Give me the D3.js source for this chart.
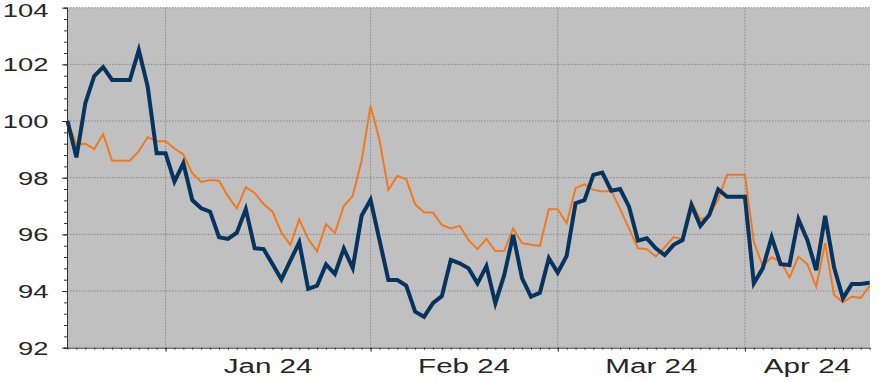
<html>
<head>
<meta charset="utf-8">
<script src="https://d3js.org/d3.v7.min.js"></script>
<style>
  body { margin: 0; background: #fff; }
  text { font-family: "Liberation Sans", Arial, sans-serif; fill: #262626; }
</style>
</head>
<body>
<svg class="chart" width="887" height="382"></svg>
<script>

// business days, 15 Dec 2023 .. 19 Apr 2024
const dates = d3.utcDay.range(new Date(Date.UTC(2023, 11, 15)), new Date(Date.UTC(2024, 3, 20)))
    .filter(d => d.getUTCDay() % 6 !== 0);

const navy = [
  100.0, 98.72, 100.63, 101.59, 101.90, 101.45, 101.45, 101.45, 102.51, 101.21,
  98.86, 98.86, 97.86, 98.51, 97.21, 96.92, 96.80, 95.90, 95.84, 96.06,
  96.89, 95.51, 95.48, 94.95, 94.41, 95.07, 95.72, 94.08, 94.19, 94.94,
  94.60, 95.50, 94.81, 96.66, 97.22, 95.80, 94.39, 94.39, 94.19, 93.27,
  93.09, 93.57, 93.82, 95.10, 94.98, 94.80, 94.27, 94.88, 93.57, 94.57,
  95.98, 94.45, 93.80, 93.94, 95.16, 94.65, 95.24, 97.10, 97.21, 98.10,
  98.18, 97.54, 97.60, 96.98, 95.78, 95.86, 95.51, 95.27, 95.63, 95.80,
  97.04, 96.30, 96.68, 97.59, 97.33, 97.33, 97.33, 94.27, 94.80, 95.90,
  94.95, 94.92, 96.53, 95.80, 94.74, 96.65, 94.84, 93.74, 94.25, 94.25,
  94.29
];

const orange = [
  100.0, 99.18, 99.20, 99.01, 99.54, 98.60, 98.60, 98.60, 98.94, 99.43,
  99.29, 99.29, 99.03, 98.82, 98.16, 97.85, 97.92, 97.89, 97.35, 96.92,
  97.66, 97.46, 97.07, 96.80, 96.07, 95.63, 96.53, 95.84, 95.40, 96.36,
  96.05, 97.00, 97.36, 98.60, 100.54, 99.33, 97.57, 98.06, 97.95, 97.06,
  96.78, 96.77, 96.33, 96.21, 96.30, 95.80, 95.48, 95.84, 95.41, 95.42,
  96.21, 95.69, 95.63, 95.59, 96.89, 96.89, 96.39, 97.63, 97.77, 97.57,
  97.51, 97.54, 96.90, 96.20, 95.51, 95.48, 95.22, 95.55, 95.90, 95.83,
  97.15, 96.53, 96.65, 97.24, 98.10, 98.10, 98.10, 95.74, 94.88, 95.19,
  95.04, 94.48, 95.21, 94.95, 94.15, 95.69, 93.86, 93.60, 93.80, 93.76,
  94.18
];

const yTicks = [92, 94, 96, 98, 100, 102, 104];
const monthNames = ["Jan 24", "Feb 24", "Mar 24", "Apr 24"];

const svg = d3.select(".chart");
const plotL = 67, plotR = 870, plotT = 7.7, plotB = 347.7;
const stretch = 1.48; // text in the reference is drawn wide

let x = d3.scaleLinear()
    .domain([0, dates.length - 1])
    .range([plotL + 0.5, plotR - 0.3]);

let y = d3.scaleLinear()
    .domain([92, 104])
    .range([plotB, plotT]);

// first business day of each month
let monthStart = dates.map((d, i) => i).filter(i => i > 0 && dates[i].getUTCMonth() !== dates[i - 1].getUTCMonth());

svg.append("rect")
    .attr("x", plotL).attr("y", plotT)
    .attr("width", plotR - plotL).attr("height", plotB - plotT)
    .attr("fill", "#c0c0c0");

// grid
svg.append("g").selectAll("line")
  .data(yTicks.slice(1))
  .join("line")
    .attr("x1", plotL).attr("x2", plotR)
    .attr("y1", d => y(d)).attr("y2", d => y(d))
    .attr("stroke", "#8a8a8a").attr("stroke-dasharray", "1.5,1.5");

svg.append("g").selectAll("line")
  .data(monthStart)
  .join("line")
    .attr("x1", d => x(d)).attr("x2", d => x(d))
    .attr("y1", plotT).attr("y2", plotB)
    .attr("stroke", "#8a8a8a").attr("stroke-dasharray", "1.5,1.5");

// lines
let line = d3.line().x((d, i) => x(i)).y(d => y(d));

svg.append("path").datum(orange)
    .attr("d", line).attr("fill", "none")
    .attr("stroke", "#f07a20").attr("stroke-width", 2);

svg.append("path").datum(navy)
    .attr("d", line).attr("fill", "none")
    .attr("stroke", "#07335f").attr("stroke-width", 4);

// y axis
svg.append("g")
    .attr("transform", `translate(${plotL},0)`)
    .call(d3.axisLeft(y).tickValues(d3.range(92, 104.01, 0.4)).tickSize(3).tickFormat(""))
    .call(g => g.selectAll("line, path").attr("stroke", "#333"));

let yAxis = svg.append("g")
    .attr("transform", `translate(${plotL},0)`)
    .call(d3.axisLeft(y).tickValues(yTicks).tickSize(5).tickSizeOuter(0))
    .call(g => g.selectAll("line, path").attr("stroke", "#333"));

// the top label sits a little lower so it stays inside the picture
yAxis.selectAll("text")
    .attr("x", null).attr("dy", "0.35em")
    .attr("transform", d => `translate(-18.5,${d === 104 ? 2.5 : 0}) scale(${stretch},1)`)
    .attr("font-size", 18.5)
    .attr("fill", "#262626");

// x axis
svg.append("g")
    .attr("transform", `translate(0,${plotB})`)
    .call(d3.axisBottom(x).tickValues(d3.range(dates.length)).tickSize(2).tickSizeOuter(0).tickFormat(""))
    .call(g => g.selectAll("line").attr("stroke", "#333"))
    .call(g => g.select("path").attr("d", `M${plotL},0.5H${plotR}`).attr("stroke", "#333"));

svg.append("g")
    .attr("transform", `translate(0,${plotB})`)
    .call(d3.axisBottom(x).tickValues(monthStart).tickSize(4).tickFormat(""))
    .call(g => g.select("path").remove())
    .call(g => g.selectAll("line").attr("stroke", "#333"));

let labelPos = monthStart.map((s, k) => (x(s) + (k + 1 < monthStart.length ? x(monthStart[k + 1]) : plotR)) / 2);

svg.append("g").selectAll("text")
  .data(monthNames)
  .join("text")
    .attr("transform", (d, i) => `translate(${labelPos[i]},373) scale(${stretch},1)`)
    .attr("text-anchor", "middle")
    .attr("font-size", 20)
    .text(d => d);

</script>
</body>
</html>
